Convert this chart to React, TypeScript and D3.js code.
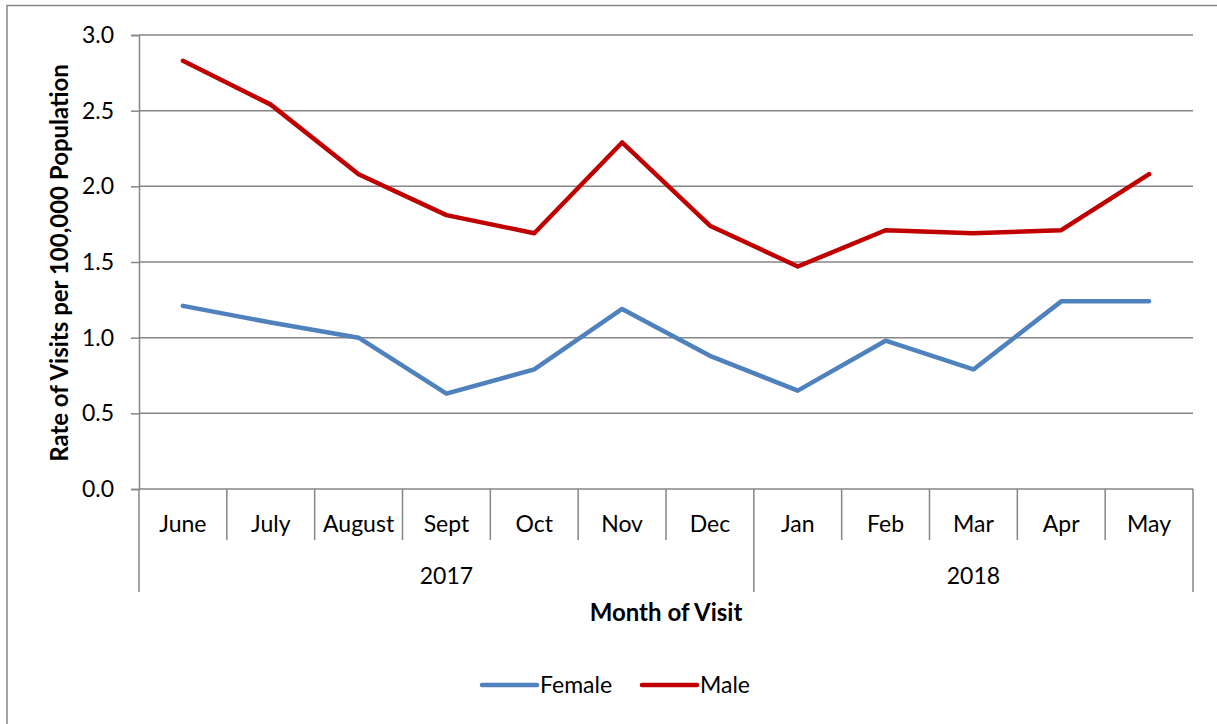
import React from "react";
import * as d3 from "d3";

const months = ["June", "July", "August", "Sept", "Oct", "Nov", "Dec", "Jan", "Feb", "Mar", "Apr", "May"];
const years = [
  { label: "2017", from: 0, to: 7 },
  { label: "2018", from: 7, to: 12 },
];
const female = [1.21, 1.1, 1.0, 0.63, 0.79, 1.19, 0.88, 0.65, 0.98, 0.79, 1.24, 1.24];
const male = [2.83, 2.54, 2.08, 1.81, 1.69, 2.29, 1.74, 1.47, 1.71, 1.69, 1.71, 2.08];
const yTicks = [0, 0.5, 1.0, 1.5, 2.0, 2.5, 3.0];

const series = [
  { name: "Female", color: "#4F81BD", values: female },
  { name: "Male", color: "#C00000", values: male },
];

const FONT = "Lato, 'Open Sans', sans-serif";
const FS = 23;

const App = () => {
  const svgRef = React.useRef<SVGSVGElement>(null);
  const W = 1217;
  const H = 724;
  const left = 139;
  const right = 1193;
  const top = 35;
  const bottom = 489;

  React.useEffect(() => {
    const svgEl = d3.select(svgRef.current);
    svgEl.selectAll("*").remove();

    // chart area frame
    svgEl
      .append("rect")
      .attr("x", 7)
      .attr("y", 5.5)
      .attr("width", 1240)
      .attr("height", 800)
      .attr("fill", "white")
      .attr("stroke", "#868686")
      .attr("stroke-width", 1.5);

    const x = d3.scaleBand<number>().domain(d3.range(months.length)).range([left, right]);
    const y = d3.scaleLinear().domain([0, 3]).range([bottom, top]);

    // y grid + labels
    const yAxis = d3
      .axisLeft(y)
      .tickValues(yTicks)
      .tickSize(8)
      .tickPadding(17)
      .tickFormat((v) => d3.format(".1f")(v as number));
    const yg = svgEl.append("g").attr("transform", `translate(${left},0)`).call(yAxis);
    yg.select(".domain").attr("stroke", "#868686").attr("stroke-width", 1.5);
    yg.selectAll("line").attr("stroke", "#868686").attr("stroke-width", 1.5);
    yg.selectAll("text").attr("font-family", FONT).attr("font-size", FS).attr("fill", "#000");

    svgEl
      .append("g")
      .selectAll("line")
      .data(yTicks)
      .enter()
      .append("line")
      .attr("x1", left)
      .attr("x2", right)
      .attr("y1", (d) => y(d))
      .attr("y2", (d) => y(d))
      .attr("stroke", "#868686")
      .attr("stroke-width", 1.5);

    // category separators
    const sep = svgEl.append("g").attr("stroke", "#868686").attr("stroke-width", 1.5);
    d3.range(1, months.length).forEach((i) => {
      const isYear = years.some((yr) => yr.from === i);
      sep
        .append("line")
        .attr("x1", x(i)!)
        .attr("x2", x(i)!)
        .attr("y1", bottom)
        .attr("y2", isYear ? 592 : 540);
    });
    [left, right].forEach((xx) => {
      sep.append("line").attr("x1", xx).attr("x2", xx).attr("y1", bottom).attr("y2", 592);
    });

    svgEl
      .append("g")
      .selectAll("text")
      .data(months)
      .enter()
      .append("text")
      .attr("x", (_, i) => x(i)! + x.bandwidth() / 2)
      .attr("y", 532)
      .attr("text-anchor", "middle")
      .attr("font-family", FONT)
      .attr("font-size", FS)
      .text((d) => d);

    svgEl
      .append("g")
      .selectAll("text")
      .data(years)
      .enter()
      .append("text")
      .attr("x", (d) => (x(d.from)! + (d.to < months.length ? x(d.to)! : right)) / 2)
      .attr("y", 584)
      .attr("text-anchor", "middle")
      .attr("font-family", FONT)
      .attr("font-size", FS)
      .text((d) => d.label);

    // axis titles
    svgEl
      .append("text")
      .attr("x", 666)
      .attr("y", 621)
      .attr("text-anchor", "middle")
      .attr("font-family", FONT)
      .attr("font-weight", "bold")
      .attr("font-size", FS + 1)
      .text("Month of Visit");
    svgEl
      .append("text")
      .attr("transform", `translate(68,${(top + bottom) / 2 + 1}) rotate(-90)`)
      .attr("text-anchor", "middle")
      .attr("font-family", FONT)
      .attr("font-weight", "bold")
      .attr("font-size", FS + 1)
      .text("Rate of Visits per 100,000 Population");

    // lines
    const line = d3
      .line<number>()
      .x((_, i) => x(i)! + x.bandwidth() / 2)
      .y((d) => y(d));
    series.forEach((s) => {
      svgEl
        .append("path")
        .datum(s.values)
        .attr("fill", "none")
        .attr("stroke", s.color)
        .attr("stroke-width", 4.5)
        .attr("stroke-linecap", "round")
        .attr("stroke-linejoin", "round")
        .attr("d", line);
    });

    // legend
    const legendX = [482, 642];
    series.forEach((s, i) => {
      const g = svgEl.append("g").attr("transform", `translate(${legendX[i]},685)`);
      g.append("line")
        .attr("x1", 0)
        .attr("x2", 55)
        .attr("stroke", s.color)
        .attr("stroke-width", 4.5)
        .attr("stroke-linecap", "round");
      g.append("text")
        .attr("x", 58)
        .attr("y", 8)
        .attr("font-family", FONT)
        .attr("font-size", FS)
        .text(s.name);
    });
  }, []);

  return (
    <svg
      ref={svgRef}
      width={W}
      height={H}
      style={{ position: "absolute", left: 0, top: 0, display: "block" }}
    />
  );
};

export default App;
